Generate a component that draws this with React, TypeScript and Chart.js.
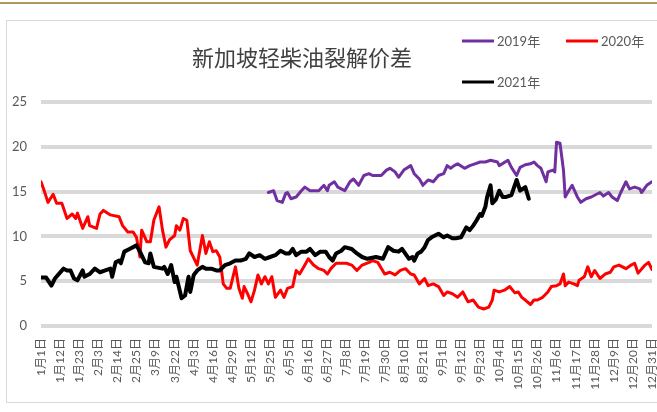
import React, { useEffect, useRef } from 'react';
import { Chart, registerables } from 'chart.js';

Chart.register(...registerables);

const TITLE = '新加坡轻柴油裂解价差';
const TICK_LABELS = [
  '1月1日', '1月12日', '1月23日', '2月3日', '2月14日', '2月25日', '3月9日', '3月22日', '4月3日',
  '4月16日', '4月29日', '5月12日', '5月25日', '6月5日', '6月16日', '6月27日', '7月8日', '7月19日',
  '7月30日', '8月10日', '8月21日', '9月1日', '9月12日', '9月23日', '10月4日', '10月15日', '10月26日',
  '11月6日', '11月17日', '11月28日', '12月9日', '12月20日', '12月31日',
];
const TICK_EVERY = 11;
const LAST_INDEX = 352;

// 2019年 (category index, value)
const X_2019 = [131,134,136,139,141,142,144,147,150,152,155,160,163,165,166,169,171,175,178,180,183,186,189,191,196,199,201,204,206,209,213,215,218,220,223,226,229,232,234,236,238,240,244,247,250,253,256,259,263,264,269,271,274,276,279,282,284,286,288,291,292,295,296,297,299,301,302,304,306,309,311,314,317,322,324,327,329,332,334,337,339,342,345,346,349,352];
const Y_2019 = [14.9,15.1,14.0,13.8,14.8,14.9,14.2,14.4,15.1,15.5,15.1,15.1,15.7,15.1,15.7,16.1,15.5,15.1,16.1,16.4,15.7,16.8,17.0,16.8,16.8,17.4,17.6,17.2,16.6,17.4,17.9,17.0,16.4,15.7,16.3,16.1,16.8,17.0,17.9,17.6,17.9,18.1,17.6,17.9,18.1,18.3,18.3,18.5,18.3,17.9,18.5,17.7,16.8,17.7,18.0,18.1,18.3,17.9,17.6,16.1,17.2,17.4,17.2,20.5,20.4,17.4,14.4,15.1,15.7,14.4,13.8,14.2,14.4,14.9,14.5,14.9,14.4,14.0,14.9,16.1,15.3,15.5,15.3,14.9,15.7,16.1];

// 2020年
const X_2020 = [0,2,4,7,9,12,15,18,20,21,24,27,28,32,34,36,40,45,47,50,53,55,57,58,61,63,65,68,70,72,74,77,78,80,82,84,86,90,93,95,97,99,101,103,105,107,109,112,114,116,117,119,121,123,125,127,129,131,133,135,138,140,142,145,147,149,152,154,157,160,163,165,167,170,173,176,179,182,185,189,191,194,198,201,204,207,210,213,215,218,221,223,226,229,232,234,237,240,243,246,249,252,255,258,260,261,264,267,270,273,275,277,279,282,284,286,289,292,294,297,299,301,302,304,307,309,310,313,315,317,319,322,325,328,330,333,337,340,342,344,348,350,352];
const Y_2020 = [16.1,15.0,13.8,14.7,13.7,13.7,12.0,12.5,12.0,12.6,10.9,12.2,11.2,10.9,12.5,12.9,12.4,12.2,11.2,10.5,10.5,9.9,7.7,10.7,9.4,9.4,11.8,13.3,10.7,8.8,9.6,10.1,11.2,10.7,12.0,11.8,8.4,6.8,10.1,8.1,9.4,8.3,8.4,7.7,4.7,4.2,4.2,6.6,4.2,3.1,4.4,3.6,2.7,4.0,5.7,4.7,5.5,4.7,5.5,3.2,4.0,3.2,4.2,4.4,6.2,5.8,6.8,7.5,6.8,6.4,6.2,5.8,6.4,7.0,7.0,7.0,6.8,6.2,6.8,7.1,7.3,7.1,5.8,6.0,5.7,6.2,6.4,5.8,5.7,4.7,5.3,4.5,4.7,4.4,3.4,3.8,3.6,3.2,3.8,2.7,2.9,2.1,1.9,2.1,2.9,4.0,3.8,4.0,4.4,3.7,3.8,3.2,2.9,2.4,2.9,2.9,3.2,3.8,4.4,4.5,4.7,5.8,4.5,4.9,4.7,4.5,5.1,5.5,6.6,5.5,6.2,5.3,5.8,6.0,6.6,6.8,6.4,6.8,7.0,5.9,6.8,7.1,6.3];

// 2021年
const X_2021 = [0,3,6,8,13,15,17,19,21,24,25,28,31,34,37,40,41,43,45,46,48,51,55,57,60,62,63,65,70,71,73,75,77,78,81,83,85,86,88,90,93,95,98,101,103,106,109,112,115,118,120,123,126,129,132,135,138,141,143,145,147,150,153,155,158,161,164,166,168,170,173,175,179,182,185,188,193,197,200,203,206,208,212,214,215,217,219,221,223,225,229,232,234,237,239,242,245,247,249,251,253,254,256,257,259,260,262,264,266,268,271,274,276,279,281];
const Y_2021 = [5.4,5.4,4.5,5.3,6.4,6.2,6.2,5.3,5.1,6.2,5.5,5.8,6.4,6.0,6.2,6.4,5.5,7.1,7.3,7.0,8.3,8.6,9.0,8.3,7.1,7.0,8.1,6.6,6.4,6.6,5.8,6.8,4.9,5.5,3.1,3.4,5.5,3.8,5.7,6.2,6.6,6.4,6.4,6.2,6.2,6.8,7.0,7.3,7.3,7.5,8.1,7.7,7.9,7.5,7.7,7.9,8.4,8.1,8.1,8.6,7.9,8.3,8.3,8.6,7.9,8.3,8.3,7.7,7.3,8.1,8.4,8.8,8.6,8.1,7.7,7.5,7.7,7.5,8.8,8.4,8.3,8.6,7.5,7.7,7.3,8.1,8.3,8.8,9.6,9.9,10.3,9.9,10.1,9.8,9.8,9.9,11.0,10.7,11.2,11.8,12.5,12.3,13.3,14.4,15.7,13.7,14.1,15.1,14.4,14.4,14.6,16.3,15.1,15.5,14.2];

const SERIES_NAMES = ['2019年', '2020年', '2021年'];
const SERIES_COLORS = ['#7030a0', '#ff0000', '#000000'];

const FONT = "Lato, 'Noto Sans CJK SC', sans-serif";

const toPoints = (xs: number[], ys: number[]) => xs.map((x, i) => ({ x, y: ys[i] }));

const titleLegendPlugin = {
  id: 'titleLegend',
  afterDraw(chart: any) {
    const ctx = chart.ctx as CanvasRenderingContext2D;
    ctx.save();
    ctx.fillStyle = '#404040';
    ctx.font = "22px 'Noto Sans CJK SC', sans-serif";
    ctx.textAlign = 'center';
    ctx.textBaseline = 'middle';
    ctx.fillText(TITLE, 302, 58);

    const items = [
      { x: 462, y: 41 },
      { x: 566, y: 41 },
      { x: 462, y: 82 },
    ];
    ctx.font = `13px ${FONT}`;
    ctx.textAlign = 'left';
    items.forEach((p, i) => {
      ctx.strokeStyle = SERIES_COLORS[i];
      ctx.lineWidth = 3;
      ctx.beginPath();
      ctx.moveTo(p.x, p.y);
      ctx.lineTo(p.x + 32, p.y);
      ctx.stroke();
      ctx.fillStyle = '#595959';
      ctx.fillText(SERIES_NAMES[i], p.x + 35, p.y + 1);
    });
    ctx.restore();
  },
};

export default function App() {
  const ref = useRef<HTMLCanvasElement>(null);
  useEffect(() => {
    const chart = new Chart(ref.current as HTMLCanvasElement, {
      type: 'line',
      data: {
        datasets: [
          {
            label: SERIES_NAMES[0],
            data: toPoints(X_2019, Y_2019),
            borderColor: SERIES_COLORS[0],
            borderWidth: 3,
            order: 2,
          },
          {
            label: SERIES_NAMES[1],
            data: toPoints(X_2020, Y_2020),
            borderColor: SERIES_COLORS[1],
            borderWidth: 3,
            order: 1,
          },
          {
            label: SERIES_NAMES[2],
            data: toPoints(X_2021, Y_2021),
            borderColor: SERIES_COLORS[2],
            borderWidth: 4,
            order: 0,
          },
        ],
      },
      options: {
        animation: false,
        responsive: false,
        maintainAspectRatio: false,
        elements: {
          point: { radius: 0, hoverRadius: 0 },
          line: { tension: 0, borderJoinStyle: 'round', borderCapStyle: 'round', fill: false },
        },
        layout: { padding: { top: 102, right: 5, left: 0, bottom: 0 } },
        plugins: {
          legend: { display: false },
          title: { display: false },
          tooltip: { enabled: false },
        },
        scales: {
          x: {
            type: 'linear',
            min: 0,
            max: LAST_INDEX,
            grid: { display: false, drawTicks: false },
            border: { display: false },
            ticks: {
              stepSize: TICK_EVERY,
              autoSkip: false,
              maxRotation: 90,
              minRotation: 90,
              padding: 12,
              color: '#595959',
              font: { family: FONT, size: 12 },
              callback: (v: any) => {
                const i = Math.round(Number(v) / TICK_EVERY);
                return TICK_LABELS[i] ?? '';
              },
            },
            afterFit: (s: any) => {
              s.height = 86;
              s.paddingLeft = 0;
              s.paddingRight = 0;
            },
          },
          y: {
            min: 0,
            max: 25,
            grid: { color: '#d9d9d9', lineWidth: 4, drawTicks: false },
            border: { display: false },
            ticks: {
              stepSize: 5,
              padding: 14,
              color: '#595959',
              font: { family: FONT, size: 13 },
            },
            afterFit: (s: any) => {
              s.width = 41;
              s.paddingTop = 0;
              s.paddingBottom = 0;
            },
          },
        },
      },
      plugins: [titleLegendPlugin],
    });
    return () => chart.destroy();
  }, []);

  return (
    <div
      style={{
        position: 'fixed',
        left: 0,
        top: 0,
        width: 657,
        height: 412,
        background: '#ffffff',
        overflow: 'hidden',
      }}
    >
      <div style={{ position: 'absolute', left: 0, top: 2, width: 657, height: 2, background: '#b0965f' }} />
      <div
        style={{
          position: 'absolute',
          left: 6,
          top: 20,
          width: 700,
          height: 381,
          border: '1px solid #d9d9d9',
        }}
      />
      <canvas ref={ref} width={657} height={412} style={{ position: 'absolute', left: 0, top: 0 }} />
    </div>
  );
}
